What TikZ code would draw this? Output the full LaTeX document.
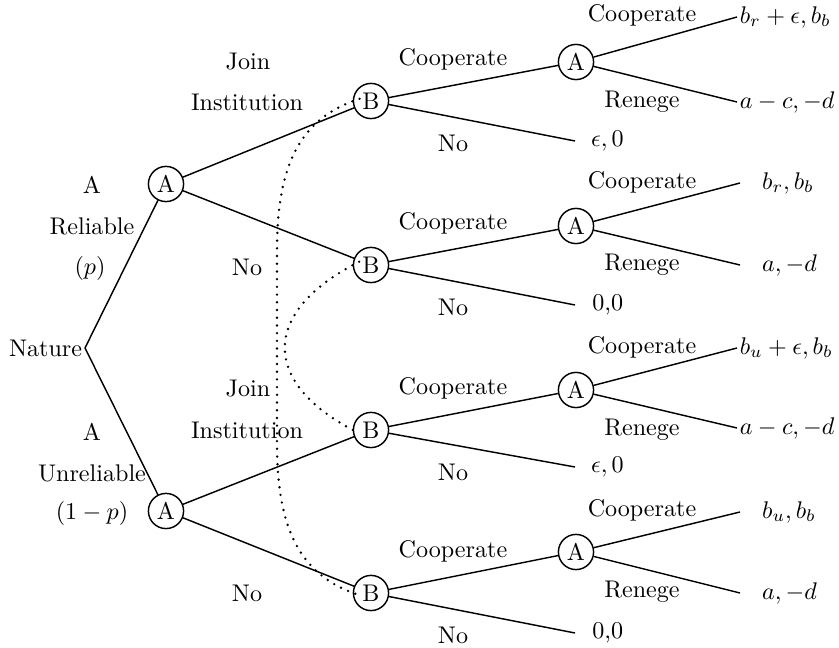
\documentclass[tikz,border=0pt]{standalone}
\usepackage{amsmath,amssymb}
\usetikzlibrary{positioning}

\begin{document}
\begin{tikzpicture}[
  x=0.415pt, y=-0.415pt,
  player/.style={draw, circle, minimum size=14.6pt, inner sep=0pt, line width=0.6pt},
  lbl/.style={inner sep=1pt},
  pay/.style={inner sep=0.5pt},
  line/.style={line width=0.6pt},
  info/.style={line width=1.1pt, dash pattern=on 0pt off 3.2pt, line cap=round,
               shorten <=-3pt, shorten >=-3pt}
]
\useasboundingbox (0,0) rectangle (839,648);

\node[lbl, anchor=east] (nature) at (85,348) {Nature};
\node[player] (ar) at (166,184) {A};
\node[player] (au) at (166,511) {A};
\node[player] (b1) at (371,101) {B};
\node[player] (b2) at (371,265) {B};
\node[player] (b3) at (371,430) {B};
\node[player] (b4) at (371,593) {B};
\node[player] (a1) at (576,62)  {A};
\node[player] (a2) at (576,226) {A};
\node[player] (a3) at (576,390) {A};
\node[player] (a4) at (576,552) {A};

\coordinate (c1) at (737,17);  \coordinate (r1) at (737,102); \coordinate (n1) at (575,141);
\coordinate (c2) at (740,183); \coordinate (r2) at (740,265); \coordinate (n2) at (575,305);
\coordinate (c3) at (737,348); \coordinate (r3) at (737,428); \coordinate (n3) at (575,467);
\coordinate (c4) at (740,512); \coordinate (r4) at (740,593); \coordinate (n4) at (575,633);

\node[pay, right=0.5pt of c1] (p1c) {$b_r+\epsilon, b_b$};
\node[pay, right=0.5pt of r1] (p1r) {$a-c, -d$};
\node[pay, right=6pt of n1]   (p1n) {$\epsilon, 0$};
\node[pay, right=8.5pt of c2] (p2c) {$b_r, b_b$};
\node[pay, right=8.5pt of r2] (p2r) {$a, -d$};
\node[pay, right=6.5pt of n2] (p2n) {0,0};
\node[pay, right=0.5pt of c3] (p3c) {$b_u+\epsilon, b_b$};
\node[pay, right=0.5pt of r3] (p3r) {$a-c, -d$};
\node[pay, right=6pt of n3]   (p3n) {$\epsilon, 0$};
\node[pay, right=8.5pt of c4] (p4c) {$b_u, b_b$};
\node[pay, right=8.5pt of r4] (p4r) {$a, -d$};
\node[pay, right=6.5pt of n4] (p4n) {0,0};

\node[lbl] (rel1) at (92,185) {A};
\node[lbl] (rel2) at (92,226) {Reliable};
\node[lbl] (rel3) at (90,268) {$(p)$};
\node[lbl] (unr1) at (92,432) {A};
\node[lbl] (unr2) at (92,473) {Unreliable};
\node[lbl] (unr3) at (92,513) {$(1-p)$};

\node[lbl] (joinr)  at (248,62)  {Join};
\node[lbl] (instr)  at (247,102) {Institution};
\node[lbl] (nor)    at (247,267) {No};
\node[lbl] (joinu)  at (248,389) {Join};
\node[lbl] (instu)  at (247,430) {Institution};
\node[lbl] (nou)    at (247,593) {No};

\node[lbl] (coop1) at (453,59)  {Cooperate};
\node[lbl] (no1)   at (453,143) {No};
\node[lbl] (coop2) at (453,223) {Cooperate};
\node[lbl] (no2)   at (453,307) {No};
\node[lbl] (coop3) at (453,388) {Cooperate};
\node[lbl] (no3)   at (453,472) {No};
\node[lbl] (coop4) at (453,551) {Cooperate};
\node[lbl] (no4)   at (453,635) {No};

\node[lbl] (acoop1) at (642,15)  {Cooperate};
\node[lbl] (areng1) at (642,102) {Renege};
\node[lbl] (acoop2) at (642,182) {Cooperate};
\node[lbl] (areng2) at (642,265) {Renege};
\node[lbl] (acoop3) at (642,347) {Cooperate};
\node[lbl] (areng3) at (642,430) {Renege};
\node[lbl] (acoop4) at (642,510) {Cooperate};
\node[lbl] (areng4) at (642,592) {Renege};

\draw[line] (nature.east) -- (ar);
\draw[line] (nature.east) -- (au);
\draw[line] (ar) -- (b1);
\draw[line] (ar) -- (b2);
\draw[line] (au) -- (b3);
\draw[line] (au) -- (b4);
\draw[line] (b1) -- (a1);
\draw[line] (b2) -- (a2);
\draw[line] (b3) -- (a3);
\draw[line] (b4) -- (a4);
\draw[line] (b1) -- (n1);
\draw[line] (b2) -- (n2);
\draw[line] (b3) -- (n3);
\draw[line] (b4) -- (n4);
\draw[line] (a1) -- (c1);
\draw[line] (a1) -- (r1);
\draw[line] (a2) -- (c2);
\draw[line] (a2) -- (r2);
\draw[line] (a3) -- (c3);
\draw[line] (a3) -- (r3);
\draw[line] (a4) -- (c4);
\draw[line] (a4) -- (r4);

\draw[info] (b1.west) .. controls (300,118) and (277,165) .. (277,250)
  -- (277,444) .. controls (277,529) and (300,576) .. (b4.west);
\draw[info] (b2.west) .. controls (260,312) and (260,384) .. (b3.west);
\end{tikzpicture}
\end{document}
